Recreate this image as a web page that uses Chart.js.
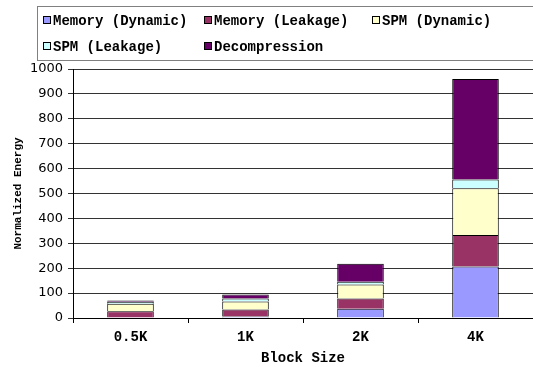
<!DOCTYPE html>
<html>
<head>
<meta charset="utf-8">
<script src="https://cdn.jsdelivr.net/npm/chart.js@4.4.1/dist/chart.umd.min.js"></script>
<style>
  html, body { margin: 0; padding: 0; background: #fff; }
  #wrap { width: 533px; height: 367px; }
</style>
</head>
<body>
<div id="wrap"><canvas id="energyChart" width="533" height="367"></canvas></div>
<script>
const blockSizes = ["0.5K", "1K", "2K", "4K"];
const yTicks = [0, 100, 200, 300, 400, 500, 600, 700, 800, 900, 1000];

const memoryDynamic = [2, 6, 37, 207];
const memoryLeakage = [25, 28, 41, 126];
const spmDynamic = [30, 32, 57, 188];
const spmLeakage = [8, 12, 11, 35];
const decompression = [5, 16, 72, 404];

const seriesNames = ["Memory (Dynamic)", "Memory (Leakage)", "SPM (Dynamic)", "SPM (Leakage)", "Decompression"];
const seriesColors = ["#9999ff", "#993366", "#ffffcc", "#ccffff", "#660066"];

const monoFont = "'Liberation Mono', 'Courier New', monospace";

// legend drawn in a box like the original, columns aligned
const boxedLegend = {
  id: "boxedLegend",
  afterDraw(chart) {
    const ctx = chart.ctx;
    ctx.save();
    ctx.strokeStyle = "#808080";
    ctx.lineWidth = 1;
    ctx.strokeRect(37.5, 6.5, 520, 54);

    const slots = [[43, 20], [204, 20], [372, 20], [43, 46], [204, 46]];
    ctx.font = "bold 14px " + monoFont;
    ctx.textBaseline = "middle";
    chart.data.datasets.forEach((ds, i) => {
      const [x, y] = slots[i];
      ctx.fillStyle = ds.backgroundColor;
      ctx.fillRect(x, y - 4, 7, 7);
      ctx.strokeStyle = "#000";
      ctx.strokeRect(x + 0.5, y - 3.5, 7, 7);
      ctx.fillStyle = "#000";
      ctx.fillText(ds.label, x + 10, y + 1);
    });
    ctx.restore();
  }
};

const datasets = [memoryDynamic, memoryLeakage, spmDynamic, spmLeakage, decompression].map((values, i) => ({
  label: seriesNames[i],
  data: values,
  backgroundColor: seriesColors[i],
  borderColor: "#000",
  borderWidth: 1,
  barPercentage: 0.405,
  categoryPercentage: 1.0
}));

new Chart(document.getElementById("energyChart").getContext("2d"), {
  type: "bar",
  data: { labels: blockSizes, datasets },
  options: {
    responsive: false,
    animation: false,
    layout: { padding: { top: 69, right: 0, bottom: 0, left: 0 } },
    plugins: {
      legend: { display: false },
      tooltip: { enabled: false }
    },
    scales: {
      x: {
        stacked: true,
        afterFit: s => { s.height = 49; },
        grid: { offset: true, drawOnChartArea: false, tickLength: 5, color: "#000" },
        border: { color: "#000" },
        ticks: { color: "#000", padding: 6, font: { family: monoFont, size: 14, weight: "bold" } },
        title: {
          display: true,
          text: "Block Size",
          color: "#000",
          padding: { top: 2, bottom: 0 },
          font: { family: monoFont, size: 14, weight: "bold" }
        }
      },
      y: {
        stacked: true,
        min: 0,
        max: 1000,
        afterFit: s => { s.width = 73; },
        afterBuildTicks: s => { s.ticks = yTicks.map(v => ({ value: v })); },
        grid: { color: "#333", tickLength: 5 },
        border: { color: "#000" },
        ticks: {
          color: "#000",
          padding: 5,
          font: { family: "'DejaVu Sans', Verdana, sans-serif", size: 13 },
          callback: v => String(v)
        },
        title: {
          display: true,
          text: "Normalized Energy",
          color: "#000",
          padding: { top: 12, bottom: 4 },
          font: { family: monoFont, size: 11, weight: "bold" }
        }
      }
    }
  },
  plugins: [boxedLegend]
});
</script>
</body>
</html>
